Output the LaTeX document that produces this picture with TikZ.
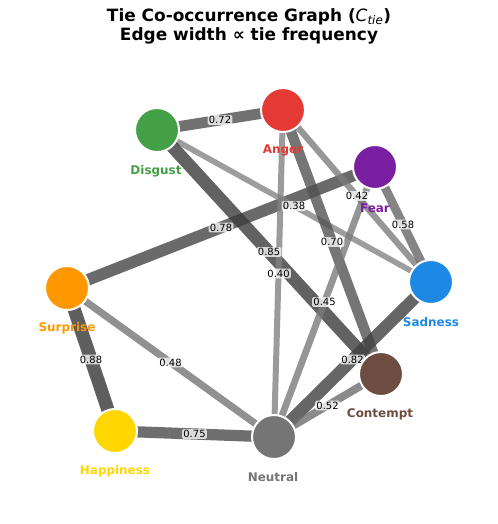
\documentclass[tikz,border=0pt]{standalone}
\usepackage{fontspec}
\setmainfont{DejaVu Sans}
\usetikzlibrary{backgrounds}

\definecolor{angerc}{HTML}{E53935}
\definecolor{disgustc}{HTML}{43A047}
\definecolor{fearc}{HTML}{7B1FA2}
\definecolor{sadnessc}{HTML}{1E88E5}
\definecolor{surprisec}{HTML}{FF9800}
\definecolor{contemptc}{HTML}{6D4C41}
\definecolor{happinessc}{HTML}{FFD600}
\definecolor{neutralc}{HTML}{757575}

\begin{document}
\begin{tikzpicture}[x=1bp, y=-1bp,
    emo/.style={circle, draw=white, line width=2bp, minimum size=44bp, inner sep=0pt},
    lbl/.style={font=\bfseries\fontsize{12}{14}\selectfont, inner sep=0pt},
    elabel/.style={fill=white, fill opacity=0.75, text opacity=1, rounded corners=1.5bp,
      inner sep=1.2bp, font=\fontsize{10}{11}\selectfont},
    edge/.code={\pgfmathtruncatemacro\eshade{25+62*#1}%
      \tikzset{line width=#1*15bp, draw=black!\eshade, draw opacity=0.8}}]
  \useasboundingbox (0,0) rectangle (498,524);

  % title
  \node[font=\bfseries\fontsize{17}{19}\selectfont, align=center] (title) at (249,26)
    {Tie Co-occurrence Graph ({\mdseries\itshape C}\textsubscript{\mdseries\itshape tie})\\Edge width ∝ tie frequency};

  % emotions
  \node[emo, fill=angerc] (anger) at (283,110) {};
  \node[emo, fill=disgustc] (disgust) at (157,130) {};
  \node[emo, fill=fearc] (fear) at (375,167) {};
  \node[emo, fill=sadnessc] (sadness) at (431,282) {};
  \node[emo, fill=surprisec] (surprise) at (67,288) {};
  \node[emo, fill=contemptc] (contempt) at (381,374) {};
  \node[emo, fill=happinessc] (happiness) at (115,431) {};
  \node[emo, fill=neutralc] (neutral) at (274,437) {};

  \node[lbl, text=angerc] (anger-l) at (283,150) {Anger};
  \node[lbl, text=disgustc] (disgust-l) at (156,171) {Disgust};
  \node[lbl, text=fearc] (fear-l) at (375,208) {Fear};
  \node[lbl, text=sadnessc] (sadness-l) at (431,322) {Sadness};
  \node[lbl, text=surprisec] (surprise-l) at (67,328) {Surprise};
  \node[lbl, text=contemptc] (contempt-l) at (380,414) {Contempt};
  \node[lbl, text=happinessc] (happiness-l) at (115,471) {Happiness};
  \node[lbl, text=neutralc] (neutral-l) at (273,477) {Neutral};

  % ties
  \begin{pgfonlayer}{background}
    \foreach \a/\b/\w in {disgust/anger/0.72, surprise/fear/0.78, disgust/sadness/0.38,
        disgust/contempt/0.85, anger/sadness/0.42, fear/sadness/0.58, anger/contempt/0.70,
        anger/neutral/0.40, fear/neutral/0.45, sadness/neutral/0.82, contempt/neutral/0.52,
        surprise/neutral/0.48, surprise/happiness/0.88, happiness/neutral/0.75}
      \draw[edge=\w] (\a.center) -- (\b.center);
    \foreach \a/\b/\w in {disgust/anger/0.72, surprise/fear/0.78, disgust/sadness/0.38,
        disgust/contempt/0.85, anger/sadness/0.42, fear/sadness/0.58, anger/contempt/0.70,
        anger/neutral/0.40, fear/neutral/0.45, sadness/neutral/0.82, contempt/neutral/0.52,
        surprise/neutral/0.48, surprise/happiness/0.88, happiness/neutral/0.75}
      \path (\a) -- (\b) node[elabel, midway] {\w};
  \end{pgfonlayer}
\end{tikzpicture}
\end{document}
